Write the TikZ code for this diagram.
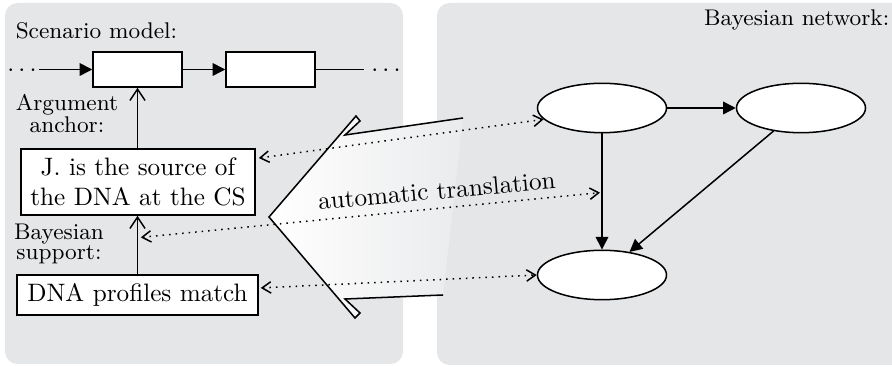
\documentclass[tikz,border=0pt]{standalone}
\usetikzlibrary{arrows.meta,shapes.geometric,calc}
\definecolor{panel}{RGB}{229,230,232}
\begin{document}
\begin{tikzpicture}[x=0.3968pt, y=-0.3968pt, line width=0.6pt,
  box/.style={draw, fill=white, inner sep=0pt, align=center},
  ell/.style={draw, fill=white, ellipse, inner sep=0pt, minimum width=51.2pt, minimum height=19.6pt},
  lab/.style={font=\fontsize{9}{8}\selectfont, align=center, inner sep=0pt},
  solidarr/.style={-{Triangle[length=5pt,width=5pt]}},
  openarr/.style={-{Straight Barb[length=4.5pt,width=6pt]}},
  dotarr/.style={dotted, {Straight Barb[length=3.5pt,width=4.5pt]}-{Straight Barb[length=3.5pt,width=4.5pt]}},
]
\useasboundingbox (0,0) rectangle (892,367);
\clip (0,0) rectangle (892,367);
% panels
\fill[panel, rounded corners=5pt] (5,3) rectangle (403,364);
\fill[panel, rounded corners=5pt] (437,3) rectangle (910,365);
% big translation arrow
\shade[left color=white, middle color=white!45!panel, right color=panel!80!white] (463,118) -- (345,135) -- (360,121) -- (356,116) -- (269,217) -- (355,318) -- (360,313) -- (345,299) -- (443,295) -- cycle;
\draw[line join=miter] (463,118) -- (345,135) -- (360,121) -- (356,116) -- (269,217) -- (355,318) -- (360,313) -- (345,299) -- (443,295);
% scenario model
\node[font=\small, anchor=base west, inner sep=0pt] (sm) at (15,39) {Scenario model:};
\node[box, minimum width=35.3pt, minimum height=13.9pt] (B1) at (137.5,69.5) {};
\node[box, minimum width=35.3pt, minimum height=13.9pt] (B2) at (270.5,69.5) {};
\node[inner xsep=0.5pt, inner ysep=0pt, anchor=base] (ld) at (22,76.3) {$\cdots$};
\node[inner xsep=2.6pt, inner ysep=0pt, anchor=base] (rd) at (386,76.3) {$\cdots$};
\draw[solidarr] (ld.east |- B1.west) -- (B1.west);
\draw[solidarr] (B1) -- (B2);
\draw (B2.east) -- (rd.west |- B2.east);
\node[box, minimum width=92.9pt, minimum height=26.2pt] (J) at (138,182) {J. is the source of\\the DNA at the CS};
\node[box, minimum width=95.6pt, minimum height=15.9pt] (D) at (137.5,295) {DNA profiles match};
\draw[openarr] (B1.south |- J.north) -- (B1.south);
\draw[openarr] (D.north) -- (D.north |- J.south);
\node[lab, anchor=base] (aa) at (67,133) {Argument\\anchor:};
\node[lab, anchor=base] (bs) at (59,260) {Bayesian\\support:};
% Bayesian network
\node[font=\small, anchor=base east, inner sep=0pt] (bn) at (890,26) {Bayesian network:};
\node[ell] (E1) at (602,108) {};
\node[ell] (E2) at (801,108) {};
\node[ell] (E3) at (602,275) {};
\draw[solidarr] (E1) -- (E2);
\draw[solidarr] (E1) -- (E3);
\draw[solidarr] (E2) -- (E3);
% translation links
\coordinate (c1L) at ([xshift=1.2pt,yshift=9.5pt]J.east);
\draw[dotarr] (c1L) -- (E1.191);
\coordinate (c2L) at ($(J.south)!0.37!(D.north)+(3,0)$);
\coordinate (c2R) at ($(E1.south)!0.51!(E3.north)+(-2,0)$);
\draw[dotarr] (c2L) -- (c2R);
\coordinate (c3L) at ([xshift=0.8pt,yshift=2.8pt]D.east);
\draw[dotarr] (c3L) -- (E3.west);
\node[anchor=base, rotate=5, inner sep=0pt] (at) at (437.5,199) {automatic translation};
\end{tikzpicture}
\end{document}
